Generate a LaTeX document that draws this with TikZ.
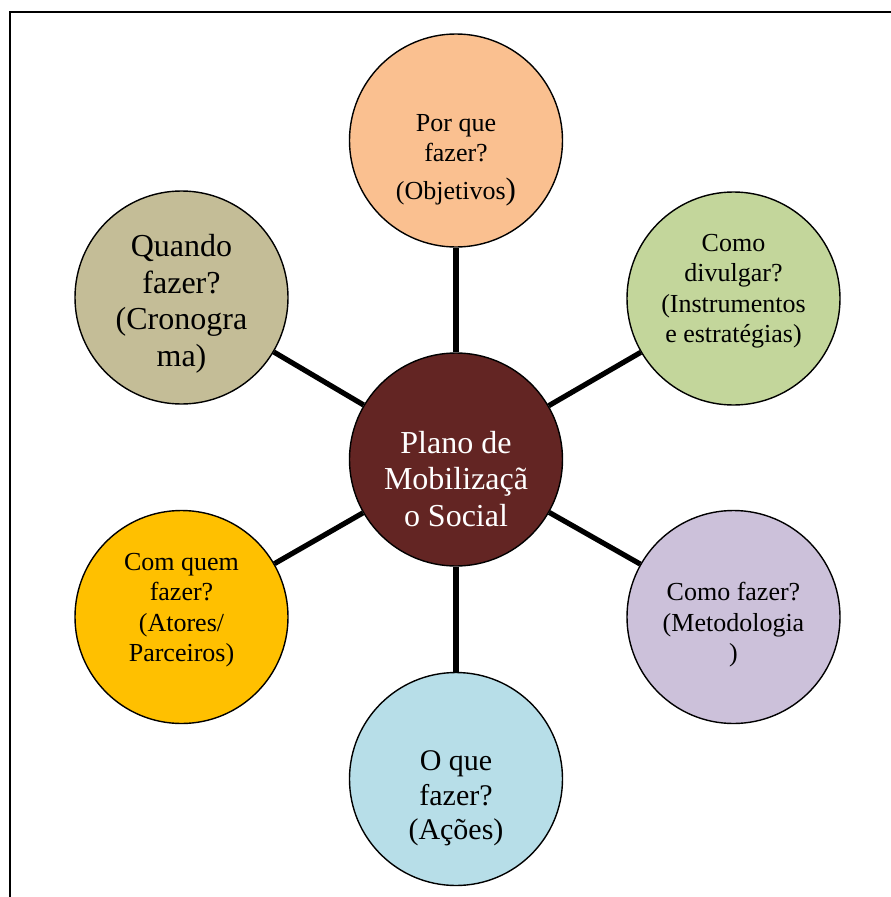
\documentclass[tikz,border=0pt]{standalone}
\usepackage{fontspec}
\setmainfont{Liberation Serif}
\definecolor{cpeach}{HTML}{FAC090}
\definecolor{cgreen}{HTML}{C3D69B}
\definecolor{clilac}{HTML}{CCC1DA}
\definecolor{caqua}{HTML}{B7DEE8}
\definecolor{cgold}{HTML}{FFC000}
\definecolor{ctan}{HTML}{C4BD97}
\definecolor{cmaroon}{HTML}{632523}
\begin{document}
\begin{tikzpicture}[x=1pt,y=-1pt,
  bubble/.style={circle,draw=black,line width=1.4pt,minimum size=213pt,inner sep=0pt},
  spoke/.style={line width=5.2pt,black},
  lbl/.style={align=center,inner sep=0pt,text=black},
  fsmall/.style={font=\fontsize{26}{30.5}\selectfont},
  fmid/.style={font=\fontsize{30}{34.5}\selectfont},
  fbig/.style={font=\fontsize{32}{36.5}\selectfont},
  frameline/.style={line width=2pt,black}]
\useasboundingbox (0,0) rectangle (891,897);
\draw[frameline] (891,11.5) -- (10,11.5) -- (10,897);

\node[bubble,fill=cmaroon] (c0) at (456,459.5) {};
\node[bubble,fill=cpeach]  (c1) at (456,140.5) {};
\node[bubble,fill=cgreen]  (c2) at (733.5,298.5) {};
\node[bubble,fill=clilac]  (c3) at (733.5,617) {};
\node[bubble,fill=caqua]   (c4) at (456,779) {};
\node[bubble,fill=cgold]   (c5) at (181.5,617) {};
\node[bubble,fill=ctan]    (c6) at (181.5,297.5) {};

\foreach \i in {1,...,6} \draw[spoke] (c0) -- (c\i);

\node[lbl,fbig,text=white] (t0) at (456,479) {Plano de\\Mobilizaçã\\o Social};
\node[lbl,fsmall] (t1) at (456,160) {Por que\\fazer?\\[7pt](Objetivos{\fontsize{31}{31}\selectfont)}};
\node[lbl,fsmall] (t2) at (733.5,291) {Como\\divulgar?\\(Instrumentos\\e estratégias)};
\node[lbl,fsmall] (t3) at (733.5,625) {Como fazer?\\(Metodologia\\)};
\node[lbl,fmid]   (t4) at (456,798.5) {O que\\fazer?\\(Ações)};
\node[lbl,fsmall] (t5) at (181.5,610) {Com quem\\fazer?\\(Atores/\\Parceiros)};
\node[lbl,fbig]   (t6) at (181.5,304) {Quando\\fazer?\\(Cronogra\\ma)};
\end{tikzpicture}
\end{document}
